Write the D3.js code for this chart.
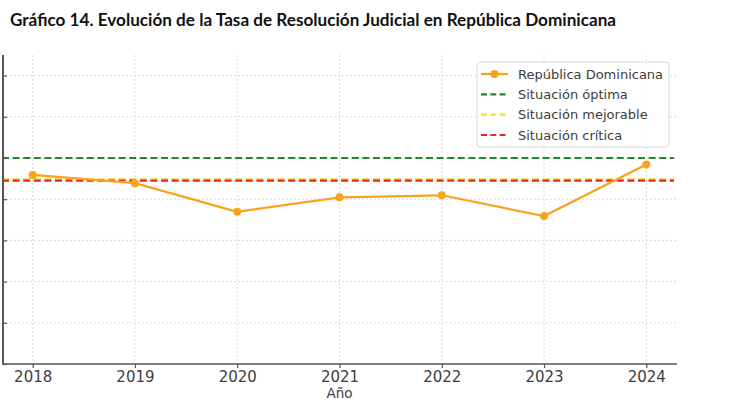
<!DOCTYPE html>
<html>
<head>
<meta charset="utf-8">
<script src="https://cdn.jsdelivr.net/npm/d3@7"></script>
<style>
  html, body { margin: 0; padding: 0; background: #fff; }
  svg { display: block; }
</style>
</head>
<body>
<svg id="chart" width="730" height="400"></svg>
<script>
// ---- data ----
const years = [2018, 2019, 2020, 2021, 2022, 2023, 2024];
const rdValues = [0.918, 0.878, 0.739, 0.809, 0.819, 0.718, 0.968];
const yTicks = [0, 0.2, 0.4, 0.6, 0.8, 1.0, 1.2, 1.4];
const thresholdNames = ["Situación óptima", "Situación mejorable", "Situación crítica"];
const thresholdValues = [1.0, 0.896, 0.890];
const seriesName = "República Dominicana";
const titleText = "Gráfico 14. Evolución de la Tasa de Resolución Judicial en República Dominicana";
const xLabel = "Año";

// ---- styles ----
const thresholdColors = ["#1f8a2a", "#f3df3a", "#e8262a"];
const lineColor = "#f9a21d";
const axisColor = "#555";
const textColor = "#3d3d3d";
const gridColor = "#d9d9d9";

const svg = d3.select("#chart");
const pLeft = 2, pRight = 677, pTop = 55, pBottom = 364;

const x = d3.scaleLinear().domain([2017.7, 2024.3]).range([pLeft, pRight]);
const y = d3.scaleLinear().domain([0, 1.5]).range([pBottom, pTop]);

// title
svg.append("text")
  .attr("x", 10).attr("y", 26)
  .attr("font-family", "Lato, 'Open Sans', sans-serif")
  .attr("font-weight", "bold")
  .attr("font-size", 16.5)
  .attr("fill", "#111")
  .attr("textLength", 606)
  .attr("lengthAdjust", "spacingAndGlyphs")
  .text(titleText);

// grid
const grid = svg.append("g");
grid.selectAll("line.v").data(years).join("line")
  .attr("x1", d => x(d)).attr("x2", d => x(d))
  .attr("y1", pTop).attr("y2", pBottom)
  .attr("stroke", gridColor).attr("stroke-width", 1)
  .attr("stroke-dasharray", "2,2");
grid.selectAll("line.h").data(yTicks.filter(d => d > 0)).join("line")
  .attr("x1", pLeft).attr("x2", pRight)
  .attr("y1", d => y(d)).attr("y2", d => y(d))
  .attr("stroke", gridColor).attr("stroke-width", 1)
  .attr("stroke-dasharray", "2,2");

// threshold lines
svg.append("g").selectAll("line").data(thresholdValues).join("line")
  .attr("x1", pLeft).attr("x2", pRight - 3)
  .attr("y1", d => y(d)).attr("y2", d => y(d))
  .attr("stroke", (d, i) => thresholdColors[i])
  .attr("stroke-width", 2.2)
  .attr("stroke-dasharray", "7,3.6");

// series line
svg.append("path")
  .datum(years.map((yr, i) => [yr, rdValues[i]]))
  .attr("fill", "none")
  .attr("stroke", lineColor)
  .attr("stroke-width", 2.2)
  .attr("d", d3.line().x(d => x(d[0])).y(d => y(d[1])));
svg.append("g").selectAll("circle").data(years).join("circle")
  .attr("cx", d => x(d)).attr("cy", (d, i) => y(rdValues[i]))
  .attr("r", 4).attr("fill", lineColor);

// x axis
const xAxis = d3.axisBottom(x).tickValues(years).tickFormat(d3.format("d"))
  .tickSize(4).tickPadding(3);
const gx = svg.append("g").attr("transform", `translate(0,${pBottom})`).call(xAxis);
gx.select(".domain").attr("stroke", axisColor).attr("stroke-width", 1.5)
  .attr("d", `M${pLeft},0H${pRight}`);
gx.selectAll(".tick line").attr("stroke", axisColor).attr("stroke-width", 1.2);
gx.selectAll(".tick text")
  .attr("font-family", "'DejaVu Sans', sans-serif")
  .attr("font-size", 15).attr("fill", textColor);

// y axis (labels cropped in reference)
const yAxis = d3.axisRight(y).tickValues(yTicks).tickFormat("").tickSize(4);
const gy = svg.append("g").attr("transform", `translate(${pLeft + 1},0)`).call(yAxis);
gy.select(".domain").attr("stroke", axisColor).attr("stroke-width", 2)
  .attr("d", `M0,${pTop}V${pBottom}`);
gy.selectAll(".tick line").attr("stroke", axisColor).attr("stroke-width", 1.2);

// x label
svg.append("text")
  .attr("x", (pLeft + pRight) / 2).attr("y", 398)
  .attr("text-anchor", "middle")
  .attr("font-family", "'DejaVu Sans', sans-serif")
  .attr("font-size", 13.5).attr("fill", textColor)
  .text(xLabel);

// legend
const lg = svg.append("g");
lg.append("rect")
  .attr("x", 477).attr("y", 62).attr("width", 192).attr("height", 85)
  .attr("rx", 3).attr("fill", "#fff").attr("fill-opacity", 0.85)
  .attr("stroke", "#d6d6d6").attr("stroke-width", 1);
const legendNames = [seriesName].concat(thresholdNames);
const legendColors = [lineColor].concat(thresholdColors);
const ly = d3.scalePoint().domain(legendNames).range([74, 135]);
legendNames.forEach((name, i) => {
  const yy = ly(name);
  lg.append("line")
    .attr("x1", 481).attr("x2", 508).attr("y1", yy).attr("y2", yy)
    .attr("stroke", legendColors[i]).attr("stroke-width", 2.2)
    .attr("stroke-dasharray", i === 0 ? null : "6,3.3");
  if (i === 0) {
    lg.append("circle").attr("cx", 494.5).attr("cy", yy).attr("r", 4).attr("fill", lineColor);
  }
  lg.append("text")
    .attr("x", 518).attr("y", yy).attr("dy", "0.35em")
    .attr("font-family", "'DejaVu Sans', sans-serif")
    .attr("font-size", 13).attr("fill", textColor)
    .text(name);
});
</script>
</body>
</html>
